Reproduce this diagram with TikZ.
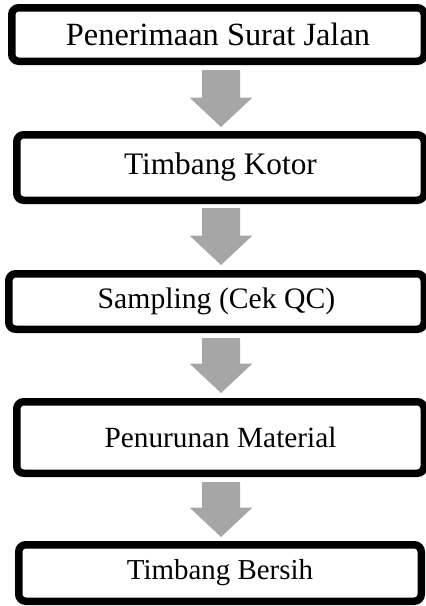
\documentclass[tikz,border=0pt]{standalone}
\usepackage{fontspec}
\setmainfont{Liberation Serif}
\usetikzlibrary{calc,shadows}
\definecolor{arrowgray}{HTML}{A6A6A6}

\tikzset{
  stepbox/.style={draw=black, line width=7.5pt, rounded corners=7pt, fill=white,
    inner sep=0pt, align=center,
    drop shadow={shadow xshift=-1.5pt, shadow yshift=-2.5pt, fill=black, opacity=0.22}},
  flowarrow/.style={fill=arrowgray}
}

% block arrow from the box #1 down to the box #2, with gaps #3 (top) and #4 (bottom)
\newcommand\blockarrow[4]{%
  \fill[flowarrow] let \p1 = ($(#1.south -| ax)+(0pt,-#3)$),
                       \p2 = ($(#2.north -| ax)+(0pt,#4)$) in
    (\x1-19pt,\y1) -- (\x1+19pt,\y1) -- (\x1+19pt,\y2+29.5pt) --
    (\x1+31.5pt,\y2+29.5pt) -- (\x1,\y2) -- (\x1-31.5pt,\y2+29.5pt) --
    (\x1-19pt,\y2+29.5pt) -- cycle;}

\begin{document}
\begin{tikzpicture}[x=1pt,y=1pt]
  \useasboundingbox (0,0) rectangle (426,-606);
  \coordinate (ax) at (221,0);

  \node[stepbox, minimum width=412.5pt, minimum height=53.5pt] (b1) at (218,-34.5)
    {\fontsize{32.4}{36}\selectfont Penerimaan Surat Jalan};
  \node[stepbox, minimum width=407.5pt, minimum height=65.5pt] (b2) at (220.5,-167.5)
    {\fontsize{31.3}{36}\selectfont Timbang Kotor};
  \node[stepbox, minimum width=415.5pt, minimum height=55.5pt] (b3) at (216.5,-301.5)
    {\fontsize{29.7}{34}\selectfont Sampling (Cek QC)};
  \node[stepbox, minimum width=407.5pt, minimum height=71.5pt] (b4) at (220.5,-437.5)
    {\fontsize{29.3}{34}\selectfont Penurunan Material};
  \node[stepbox, minimum width=402.5pt, minimum height=56.5pt] (b5) at (220,-573)
    {\fontsize{28.9}{34}\selectfont Timbang Bersih};

  \blockarrow{b1}{b2}{5pt}{4pt}
  \blockarrow{b2}{b3}{4pt}{5pt}
  \blockarrow{b3}{b4}{5pt}{5pt}
  \blockarrow{b4}{b5}{5pt}{4pt}
\end{tikzpicture}
\end{document}
